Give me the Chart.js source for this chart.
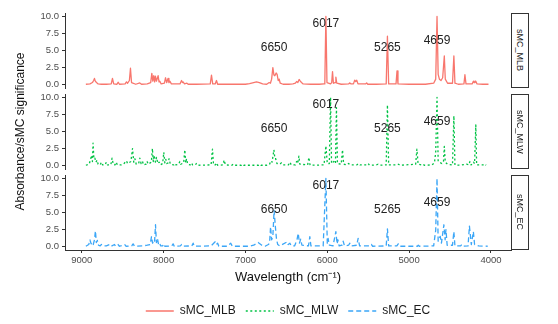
<!DOCTYPE html>
<html>
<head>
<meta charset="utf-8">
<script src="https://cdn.jsdelivr.net/npm/chart.js@4.4.1/dist/chart.umd.min.js"></script>
<style>
  html, body { margin: 0; padding: 0; background: #fff; }
  #wrap { position: relative; width: 558px; height: 324px; overflow: hidden; font-family: "Liberation Sans", Arial, sans-serif; }
  canvas { position: absolute; left: 0; }
  .strip { position: absolute; left: 511px; width: 18px; height: 75px; box-sizing: border-box; border: 1.5px solid #333; display: flex; align-items: center; justify-content: center; background: #fff; }
  .strip span { writing-mode: vertical-rl; font-size: 9px; color: #1a1a1a; white-space: nowrap; }
</style>
</head>
<body>
<div id="wrap">
  <canvas id="panelMLB" width="558" height="92" style="top:0px"></canvas>
  <canvas id="panelEC" width="558" height="168" style="top:162px"></canvas>
  <canvas id="panelMLW" width="558" height="260" style="top:0px"></canvas>
  <div class="strip" style="top:13px"><span>sMC_MLB</span></div>
  <div class="strip" style="top:94px"><span>sMC_MLW</span></div>
  <div class="strip" style="top:175px"><span>sMC_EC</span></div>
</div>
<script>
// tick labels
const xTicks = [9000, 8000, 7000, 6000, 5000, 4000];
const yTicks = [0, 2.5, 5, 7.5, 10];

// annotated peaks
const peakLabels = ['6650', '6017', '5265', '4659'];
const peakLabelX = [6650, 6017, 5265, 4659];
const peakLabelY = [5.4, 8.9, 5.4, 6.4];

// sMC_MLB
const mlbWave = [8950, 8900, 8870, 8855, 8845, 8835, 8820, 8800, 8760, 8700, 8640, 8625, 8610, 8570, 8556, 8540,
  8470, 8454, 8440, 8418, 8405, 8392, 8340, 8291, 8270, 8200, 8158, 8144, 8132, 8120, 8110, 8100, 8088, 8067, 8056, 8046, 8030,
  7990, 7977, 7962, 7946, 7935, 7924, 7905, 7800, 7781, 7770, 7762, 7745, 7715, 7700, 7600, 7430, 7415, 7400, 7370, 7354, 7340,
  7250, 7000, 6950, 6900, 6865, 6830, 6790, 6740, 6710, 6695, 6680, 6665, 6652, 6641, 6625, 6613, 6600, 6588, 6575, 6540,
  6470, 6420, 6390, 6375, 6360, 6344, 6330, 6315, 6295, 6200, 6100, 6040, 6030, 6017, 6004, 5960, 5946, 5936, 5925, 5905, 5895, 5884,
  5830, 5740, 5724, 5710, 5680, 5665, 5652, 5640, 5625, 5530, 5519, 5505, 5400, 5280, 5265, 5250, 5160, 5148, 5136,
  5000, 4800, 4700, 4675, 4659, 4645, 4630, 4610, 4590, 4570, 4558, 4530, 4470, 4453, 4440, 4400, 4330, 4318, 4305,
  4230, 4215, 4205, 4195, 4185, 4170, 4100, 4030];
const mlbValue = [0.05, 0.1, 0.3, 0.6, 0.9, 0.5, 0.3, 0.1, 0.05, 0.05, 0.1, 0.9, 0.1, 0.05, 0.35, 0.05,
  0.1, 0.4, 0.2, 0.6, 2.4, 0.3, 0.05, 0.25, 0.05, 0.1, 0.3, 1.65, 0.5, 1.3, 0.4, 1.25, 0.5, 1.3, 0.4, 0.5, 0.1,
  0.2, 1.0, 0.3, 0.9, 0.3, 0.5, 0.1, 0.1, 0.6, 0.3, 0.4, 0.1, 0.2, 0.05, 0.05, 0.1, 1.4, 0.1, 0.1, 0.6, 0.05,
  0.05, 0.05, 0.15, 0.3, 0.4, 0.3, 0.1, 0.05, 0.3, 0.2, 0.8, 2.5, 1.4, 1.3, 1.7, 1.5, 0.6, 0.8, 0.2, 0.05,
  0.05, 0.1, 0.2, 0.45, 0.3, 0.75, 0.5, 0.3, 0.1, 0.05, 0.05, 0.1, 0.2, 10.0, 0.3, 0.1, 0.3, 1.9, 0.2, 0.3, 1.1, 0.2,
  0.05, 0.1, 0.25, 0.1, 0.1, 0.65, 0.45, 0.65, 0.1, 0.1, 0.25, 0.05, 0.05, 0.1, 7.1, 0.1, 0.1, 2.0, 0.1,
  0.05, 0.05, 0.2, 0.8, 10.0, 1.5, 0.8, 0.6, 1.0, 4.2, 0.8, 0.2, 0.2, 4.2, 0.2, 0.05, 0.1, 1.45, 0.1,
  0.1, 0.5, 0.3, 0.5, 0.5, 0.1, 0.05, 0.05];

// sMC_MLW
const mlwWave = [8950, 8910, 8895, 8880, 8870, 8862, 8852, 8840, 8828, 8813, 8800, 8775, 8760, 8745, 8715, 8700, 8685,
  8645, 8630, 8615, 8595, 8580, 8565, 8520, 8490, 8470, 8454, 8440, 8400, 8380, 8365, 8350, 8335, 8305, 8291, 8275, 8258, 8245,
  8215, 8202, 8188, 8150, 8137, 8126, 8116, 8100, 8087, 8070, 8055, 8040, 8012, 7998, 7985, 7973, 7960, 7945, 7933, 7918,
  7875, 7863, 7850, 7815, 7802, 7790, 7755, 7741, 7730, 7720, 7705, 7675, 7660, 7645, 7612, 7600, 7585,
  7420, 7403, 7390, 7368, 7354, 7340, 7275, 7260, 7245, 7165, 7150, 7135, 7050, 7036, 7020, 6840, 6824, 6810,
  6740, 6705, 6690, 6675, 6652, 6640, 6630, 6615, 6580, 6560, 6540, 6475, 6457, 6440, 6390, 6375, 6362, 6347, 6335,
  6240, 6225, 6210, 6040, 6017, 6000, 5975, 5960, 5948, 5920, 5900, 5888, 5876, 5830, 5814, 5800, 5760, 5740, 5720,
  5640, 5617, 5600, 5520, 5500, 5485, 5400, 5380, 5360, 5280, 5265, 5250, 5150, 5130, 5110, 4920, 4905, 4890, 4850, 4830, 4815,
  4720, 4690, 4675, 4659, 4645, 4600, 4580, 4570, 4558, 4530, 4470, 4453, 4440, 4380, 4300, 4270, 4257, 4245, 4225, 4215,
  4200, 4185, 4175, 4080, 4074, 4060];
const mlwValue = [0.05, 0.2, 0.8, 1.5, 0.6, 3.3, 1.0, 1.1, 0.5, 0.8, 0.2, 0.1, 0.5, 0.1, 0.1, 0.5, 0.1,
  0.1, 1.1, 0.2, 0.1, 0.5, 0.1, 0.1, 0.2, 0.5, 0.7, 0.3, 0.6, 2.5, 0.5, 1.0, 0.2, 0.3, 1.1, 0.3, 0.6, 0.1,
  0.2, 0.6, 0.2, 0.5, 2.5, 0.6, 1.5, 0.5, 1.2, 0.3, 0.5, 0.1, 0.3, 1.95, 0.4, 0.9, 0.3, 0.4, 1.0, 0.2,
  0.1, 0.3, 0.1, 0.2, 0.6, 0.2, 0.4, 2.3, 0.4, 1.0, 0.2, 0.1, 0.4, 0.1, 0.1, 0.3, 0.05,
  0.1, 2.4, 0.1, 0.1, 0.4, 0.05, 0.1, 0.8, 0.1, 0.05, 0.2, 0.05, 0.05, 0.2, 0.05, 0.05, 0.2, 0.05,
  0.05, 0.2, 0.7, 0.5, 2.3, 1.0, 1.0, 0.3, 0.2, 0.4, 0.1, 0.1, 0.5, 0.1, 0.1, 0.6, 0.3, 1.4, 0.2,
  0.1, 1.2, 0.05, 0.1, 2.9, 0.3, 0.3, 10.0, 0.3, 0.6, 0.3, 8.5, 0.3, 0.2, 2.3, 0.2, 0.1, 0.3, 0.1,
  0.1, 0.3, 0.1, 0.1, 0.3, 0.05, 0.1, 0.2, 0.05, 0.1, 8.9, 0.1, 0.1, 0.2, 0.05, 0.2, 2.4, 0.2, 0.1, 0.2, 0.05,
  0.1, 0.4, 2.0, 10.0, 0.6, 0.3, 0.6, 2.8, 0.5, 0.2, 0.1, 7.3, 0.1, 0.05, 0.2, 0.1, 0.6, 0.1, 0.2, 0.5,
  0.3, 5.95, 0.1, 0.1, 0.2, 0.05];

// sMC_EC
const ecWave = [8950, 8915, 8900, 8885, 8874, 8860, 8845, 8833, 8822, 8810, 8795, 8775, 8760, 8740, 8700, 8658, 8640,
  8600, 8585, 8556, 8540, 8474, 8460, 8390, 8373, 8355, 8260, 8200, 8165, 8148, 8135, 8120, 8110, 8099, 8088, 8075, 8062,
  8050, 8035, 8012, 8000, 7985, 7900, 7884, 7870, 7795, 7781, 7765, 7655, 7639, 7625, 7420, 7370, 7355, 7340, 7325,
  7225, 7180, 7160, 6950, 6900, 6845, 6800, 6760, 6720, 6705, 6693, 6680, 6665, 6650, 6635, 6620, 6605, 6580,
  6490, 6478, 6457, 6440, 6400, 6370, 6355, 6340, 6325, 6310, 6230, 6213, 6200, 6050, 6017, 6000, 5990, 5975,
  5930, 5895, 5880, 5870, 5855, 5820, 5806, 5790, 5740, 5724, 5710, 5640, 5623, 5605, 5475, 5460, 5445,
  5280, 5265, 5250, 5150, 5133, 5115, 4900, 4888, 4875, 4700, 4675, 4659, 4645, 4620, 4605, 4575, 4560, 4550, 4535,
  4470, 4453, 4440, 4370, 4356, 4340, 4280, 4263, 4250, 4240, 4215, 4200, 4150, 4040];
const ecValue = [0.05, 0.3, 0.97, 0.4, 0.6, 0.3, 1.0, 2.3, 0.6, 0.9, 0.2, 0.1, 0.3, 0.1, 0.1, 0.3, 0.05,
  0.3, 0.05, 0.3, 0.05, 0.3, 0.05, 0.1, 0.4, 0.05, 0.1, 0.2, 0.3, 1.45, 0.5, 1.0, 0.8, 3.2, 0.6, 1.2, 0.3,
  0.5, 0.1, 0.1, 0.4, 0.05, 0.1, 0.4, 0.05, 0.1, 0.3, 0.05, 0.1, 0.5, 0.05, 0.1, 0.7, 0.3, 0.5, 0.05,
  0.05, 0.5, 0.05, 0.05, 0.2, 0.6, 0.2, 0.05, 0.3, 0.5, 2.9, 1.0, 1.5, 5.3, 3.0, 1.0, 0.3, 0.1,
  0.7, 0.3, 0.5, 0.1, 0.1, 1.0, 1.95, 0.5, 1.1, 0.2, 0.1, 1.45, 0.1, 0.1, 10.0, 0.5, 1.2, 0.2,
  0.1, 2.2, 0.4, 1.0, 0.1, 0.2, 0.8, 0.1, 0.2, 0.5, 0.1, 0.2, 1.2, 0.1, 0.1, 0.3, 0.05,
  0.1, 2.6, 0.1, 0.1, 0.4, 0.05, 0.05, 0.2, 0.05, 0.1, 2.4, 10.0, 0.8, 1.5, 0.5, 3.2, 1.0, 2.5, 0.2,
  0.2, 2.2, 0.1, 0.1, 0.3, 0.05, 0.1, 3.0, 1.5, 0.3, 2.2, 0.3, 0.1, 0.05];

const fontFamily = '"Liberation Sans", Arial, sans-serif';

const series = [
  { name: 'sMC_MLB', wave: mlbWave, value: mlbValue, color: '#F8766D', dash: [] },
  { name: 'sMC_MLW', wave: mlwWave, value: mlwValue, color: '#00C244', dash: [2, 2.5] },
  { name: 'sMC_EC', wave: ecWave, value: ecValue, color: '#3BA6F7', dash: [5, 3] }
];

function toPoints(wave, value) {
  return wave.map((w, i) => ({ x: w, y: value[i] }));
}

// text labels over the peaks, placed through the chart scales
const peakLabelPlugin = {
  id: 'peakLabels',
  afterDatasetsDraw(chart) {
    const { ctx, scales: { x, y } } = chart;
    ctx.save();
    ctx.font = '12px ' + fontFamily;
    ctx.fillStyle = '#222';
    ctx.textAlign = 'center';
    ctx.textBaseline = 'middle';
    peakLabels.forEach((txt, i) => {
      ctx.fillText(txt, x.getPixelForValue(peakLabelX[i]), y.getPixelForValue(peakLabelY[i]));
    });
    ctx.restore();
  }
};

// pad = [top, bottom] layout padding that puts the plot area where the panel sits
function makePanel(canvasId, s, isBottom, yTitle, pad) {
  const ctx = document.getElementById(canvasId).getContext('2d');
  return new Chart(ctx, {
    type: 'line',
    data: {
      datasets: [{
        label: s.name,
        data: toPoints(s.wave, s.value),
        borderColor: s.color,
        backgroundColor: s.color,
        borderWidth: 1.3,
        borderDash: s.dash,
        borderJoinStyle: 'round',
        pointRadius: 0,
        tension: 0,
        fill: false
      }]
    },
    options: {
      responsive: false,
      animation: false,
      layout: { padding: { top: pad[0], right: 47, bottom: pad[1], left: 0 } },
      plugins: {
        tooltip: { enabled: false },
        legend: {
          display: isBottom,
          position: 'bottom',
          fullSize: false,
          labels: {
            usePointStyle: true,
            pointStyle: 'line',
            pointStyleWidth: 28,
            padding: 10,
            color: '#1a1a1a',
            font: { size: 12, family: fontFamily },
            generateLabels: () => series.map(item => ({
              text: item.name,
              strokeStyle: item.color,
              fillStyle: item.color,
              lineWidth: 1.5,
              lineDash: item.dash,
              pointStyle: 'line',
              hidden: false,
              fontColor: '#1a1a1a'
            }))
          }
        }
      },
      scales: {
        x: {
          type: 'linear',
          reverse: true,
          min: 3755,
          max: 9205,
          display: isBottom,
          afterBuildTicks: sc => { sc.ticks = xTicks.map(v => ({ value: v })); },
          afterFit: sc => { if (isBottom) { sc.height = 45; sc.paddingLeft = 0; sc.paddingRight = 0; } },
          grid: { display: true, drawOnChartArea: false, drawTicks: true, tickLength: 3, color: '#333' },
          border: { display: true, color: '#333', width: 1 },
          ticks: { padding: 2, maxRotation: 0, autoSkip: false, color: '#4d4d4d', font: { size: 9.5, family: fontFamily }, callback: v => String(v) },
          title: { display: true, text: 'Wavelength (cm⁻¹)', color: '#111', padding: { top: 4, bottom: 10 }, font: { size: 13, family: fontFamily } }
        },
        y: {
          min: -0.5,
          max: 10.5,
          afterBuildTicks: sc => { sc.ticks = yTicks.map(v => ({ value: v })); },
          afterFit: sc => { sc.width = 65; sc.paddingTop = 0; sc.paddingBottom = 0; },
          grid: { display: true, drawOnChartArea: false, drawTicks: true, tickLength: 3, color: '#333' },
          border: { display: true, color: '#333', width: 1 },
          ticks: { padding: 3, color: '#4d4d4d', font: { size: 9.5, family: fontFamily }, callback: v => v.toFixed(1) },
          title: { display: !!yTitle, text: yTitle || '', color: '#111', padding: { top: 13, bottom: 0 }, font: { size: 12, family: fontFamily } }
        }
      }
    },
    plugins: [peakLabelPlugin]
  });
}

makePanel('panelMLB', series[0], false, null, [13, 4]);
makePanel('panelMLW', series[1], false, 'Absorbance/sMC significance', [94, 91]);
makePanel('panelEC', series[2], true, null, [13, 3]);
</script>
</body>
</html>
